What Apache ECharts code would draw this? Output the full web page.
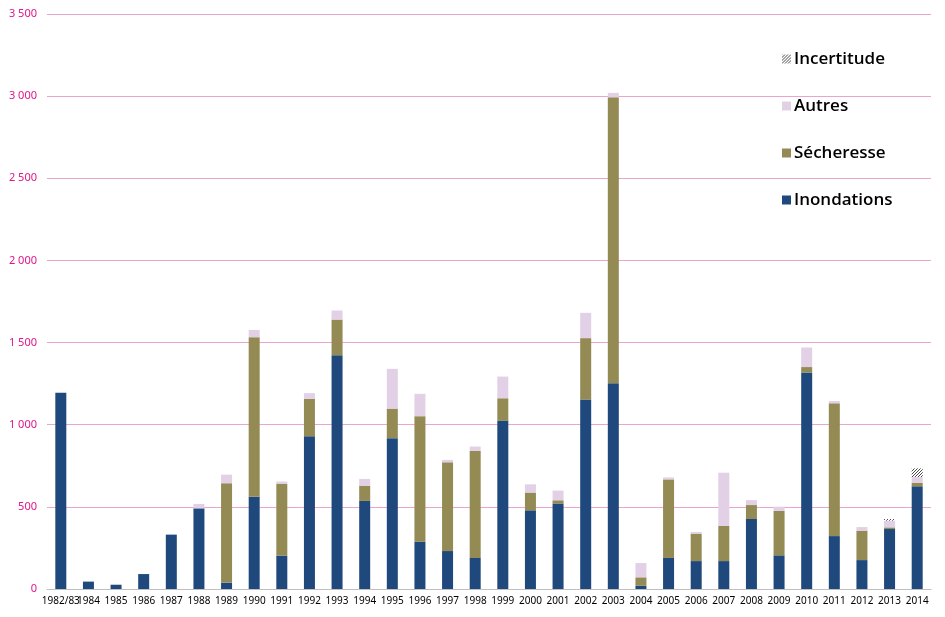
<!DOCTYPE html>
<html>
<head>
<meta charset="utf-8">
<script src="https://cdn.jsdelivr.net/npm/echarts@6/dist/echarts.min.js"></script>
<style>
html,body{margin:0;padding:0;background:#fff;}
#chart{width:945px;height:617px;}
</style>
</head>
<body>
<div id="chart"></div>
<script>
const categories = ['1982/83','1984','1985','1986','1987','1988','1989','1990','1991','1992','1993','1994','1995','1996','1997','1998','1999','2000','2001','2002','2003','2004','2005','2006','2007','2008','2009','2010','2011','2012','2013','2014'];
const inondations = [1195,45,26,91,331,491,39,562,203,930,1423,536,918,288,231,189,1025,479,520,1153,1253,20,189,170,170,426,205,1318,322,176,365,625];
const secheresse = [0,0,0,0,0,0,605,971,438,227,217,93,180,764,540,651,136,108,20,374,1740,51,478,167,215,85,270,33,808,179,10,22];
const autres = [0,0,0,0,0,27,52,44,13,35,55,41,242,136,15,27,132,50,59,154,27,87,12,10,323,30,26,119,14,22,41,34];
const incertitude = [null,null,null,null,null,null,null,null,null,null,null,null,null,null,null,null,null,null,null,null,null,null,null,null,null,null,null,null,null,null,10,53];
const yTicks = [0,500,1000,1500,2000,2500,3000,3500];

function hatch(){
  const c = document.createElement('canvas');
  c.width = 3; c.height = 3;
  const g = c.getContext('2d');
  g.fillStyle = '#ffffff'; g.fillRect(0,0,3,3);
  g.fillStyle = '#4a4a4a';
  g.fillRect(2,0,1,1); g.fillRect(1,1,1,1); g.fillRect(0,2,1,1);
  return c;
}
const hatchColor = {image: hatch(), repeat: 'repeat'};

const chart = echarts.init(document.getElementById('chart'), null, {renderer:'canvas'});
const barW = 11;
chart.setOption({
  animation: false,
  backgroundColor: '#ffffff',
  grid: {left: 47, right: 14, top: 14, bottom: 28, containLabel: false},
  legend: {
    orient: 'vertical',
    left: 777,
    top: 44,
    itemWidth: 9,
    itemHeight: 9,
    itemGap: 27,
    icon: 'rect',
    data: ['Incertitude','Autres','Sécheresse','Inondations'],
    textStyle: {fontFamily: 'Open Sans', fontSize: 17, fontWeight: 600, color: '#000', lineHeight: 20, padding: [0,0,0,-2]}
  },
  xAxis: {
    type: 'category',
    data: categories,
    axisLine: {show: true, lineStyle: {color: '#bfbfbf', width: 1}},
    axisTick: {show: false},
    axisLabel: {interval: 0, color: '#000', fontFamily: 'Noto Sans', fontSize: 10, margin: 7}
  },
  yAxis: {
    type: 'value',
    min: yTicks[0], max: yTicks[yTicks.length-1], interval: 500,
    axisLine: {show: false},
    axisTick: {show: false},
    splitLine: {lineStyle: {color: '#eaa5cf', width: 1}},
    axisLabel: {
      color: '#e0168a', fontFamily: 'Noto Sans', fontSize: 11, margin: 10,
      formatter: function(v){ return String(v).replace(/\B(?=(\d{3})+(?!\d))/g, ' '); }
    }
  },
  series: [
    {name:'Inondations', type:'bar', stack:'t', barWidth: barW, data: inondations, itemStyle:{color:'#1f497d'}},
    {name:'Sécheresse', type:'bar', stack:'t', barWidth: barW, data: secheresse, itemStyle:{color:'#948a54'}},
    {name:'Autres', type:'bar', stack:'t', barWidth: barW, data: autres, itemStyle:{color:'#e1d0e6'}},
    {name:'Incertitude', type:'bar', stack:'t', barWidth: barW, data: incertitude, itemStyle:{color: hatchColor}}
  ]
});
</script>
</body>
</html>
